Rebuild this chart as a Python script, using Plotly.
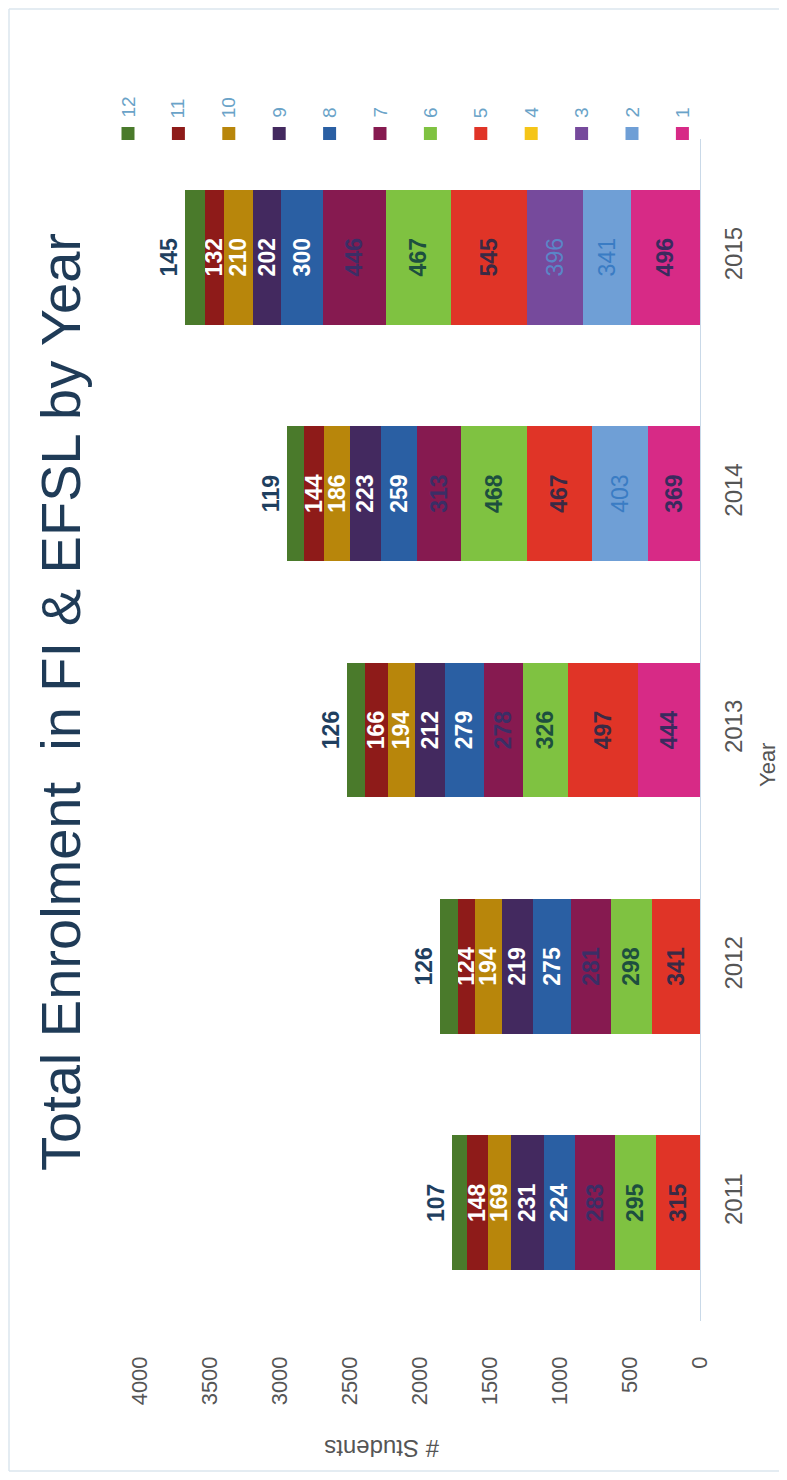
import plotly.graph_objects as go

# ---------------- data ----------------
years = ["2011", "2012", "2013", "2014", "2015"]
grades = ["1", "2", "3", "4", "5", "6", "7", "8", "9", "10", "11", "12"]

g1 = [None, None, 444, 369, 496]
g2 = [None, None, None, 403, 341]
g3 = [None, None, None, None, 396]
g4 = [None, None, None, None, None]
g5 = [315, 341, 497, 467, 545]
g6 = [295, 298, 326, 468, 467]
g7 = [283, 281, 278, 313, 446]
g8 = [224, 275, 279, 259, 300]
g9 = [231, 219, 212, 223, 202]
g10 = [169, 194, 194, 186, 210]
g11 = [148, 124, 166, 144, 132]
g12 = [107, 126, 126, 119, 145]
series = [g1, g2, g3, g4, g5, g6, g7, g8, g9, g10, g11, g12]

value_ticks = [0, 500, 1000, 1500, 2000, 2500, 3000, 3500, 4000]

# ---------------- styles ----------------
colors = ["#d72a86", "#6f9fd6", "#764a9c", "#f5c518", "#e03427", "#7fc241",
          "#861a50", "#2a5fa3", "#43295f", "#b8860b", "#8e1b19", "#4a7a2b"]
label_colors = ["#3a2a5e", "#3a7cc4", "#5a86c8", "#333333", "#3a2a45", "#1d4f3f",
                "#3b2e66", "#ffffff", "#ffffff", "#ffffff", "#ffffff", "#1f3f5f"]
label_bold = [True, False, False, True, True, True, True, True, True, True, True, True]

# figure sized so that the page (with the default 8px body margin) does not scroll
OFF = 8
W, H = 771, 1464
L, T = 132, 131
PW, PH = 560, 1182
R, B = W - L - PW, H - T - PH


def px_x(page_x):
    return (page_x - OFF - L) / PW


def px_y(page_y):
    return (T + PH - (page_y - OFF)) / PH


FONT = "Liberation Sans, Arial, sans-serif"

fig = go.Figure()
for i, vals in enumerate(series):
    texts = [("<b>%d</b>" % v if label_bold[i] else "%d" % v) if v is not None else "" for v in vals]
    fig.add_trace(go.Bar(
        y=years, x=vals, orientation="h", name=grades[i],
        marker=dict(color=colors[i], line=dict(width=0)),
        text=texts, texttemplate="%{text}",
        textposition="outside" if i == len(series) - 1 else "inside",
        insidetextanchor="middle", textangle=-90, constraintext="none",
        textfont=dict(family=FONT, size=23, color=label_colors[i]),
        cliponaxis=False, showlegend=False, hoverinfo="skip",
    ))

fig.update_layout(
    width=W, height=H,
    margin=dict(l=L, r=R, t=T, b=B),
    barmode="stack", bargap=0.43,
    plot_bgcolor="white", paper_bgcolor="white",
    font=dict(family=FONT, color="#555555"),
    xaxis=dict(range=[4000, 0], tickvals=value_ticks, tickangle=-90,
               showgrid=False, zeroline=False, showline=False, ticks="",
               ticklabelstandoff=30,
               tickfont=dict(family=FONT, size=22, color="#555555")),
    yaxis=dict(categoryorder="array", categoryarray=years, side="right",
               range=[-0.5, 4.5], tickangle=-90, showgrid=False, zeroline=False,
               showline=True, linecolor="#c9d9e8", linewidth=1, ticks="",
               ticklabelstandoff=12,
               tickfont=dict(family=FONT, size=24, color="#555555")),
)

annotations = [
    dict(text="Total Enrolment  in FI &amp; EFSL by Year", textangle=-90,
         x=px_x(60), y=px_y(702), xref="paper", yref="paper",
         xanchor="center", yanchor="middle",
         showarrow=False, font=dict(family=FONT, size=56, color="#1f3b57")),
    dict(text="Year", textangle=-90, x=px_x(767), y=px_y(765),
         xref="paper", yref="paper", xanchor="center", yanchor="middle",
         showarrow=False, font=dict(family=FONT, size=22, color="#555555")),
    dict(text="# Students", textangle=180, x=px_x(382), y=px_y(1449),
         xref="paper", yref="paper", xanchor="center", yanchor="middle",
         showarrow=False, font=dict(family=FONT, size=24, color="#555555")),
]

shapes = []
# custom rotated legend: grade 12 on the left ... grade 1 on the right
for k, gi in enumerate(range(len(grades) - 1, -1, -1)):
    cx = 128 + 50.4 * k
    shapes.append(dict(type="rect", xref="paper", yref="paper",
                       x0=px_x(cx - 6.5), x1=px_x(cx + 6.5),
                       y0=px_y(140), y1=px_y(127),
                       fillcolor=colors[gi], line=dict(width=0)))
    annotations.append(dict(text=grades[gi], textangle=-90, x=px_x(cx), y=px_y(120),
                            xref="paper", yref="paper", xanchor="center", yanchor="bottom",
                            showarrow=False,
                            font=dict(family=FONT, size=19, color="#6aa3c8")))

# faint frame (top, left, bottom) around the chart
frame = "#dbe6ee"
for x0, y0, x1, y1 in [(9, 9, 779, 9), (9, 9, 9, 1471), (9, 1471, 779, 1471)]:
    shapes.append(dict(type="line", xref="paper", yref="paper",
                       x0=px_x(x0), y0=px_y(y0), x1=px_x(x1), y1=px_y(y1),
                       line=dict(color=frame, width=1.5)))

fig.update_layout(annotations=annotations, shapes=shapes)
fig.write_html("out.html")
